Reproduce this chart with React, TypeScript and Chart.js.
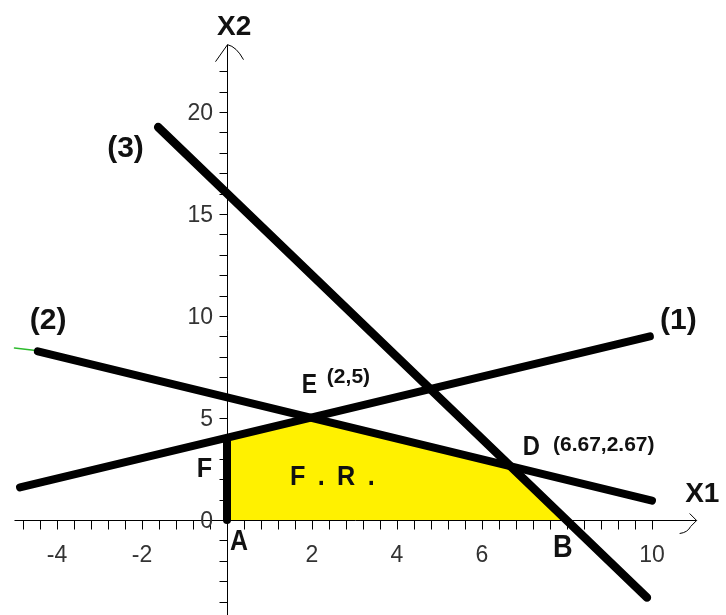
import React, { useEffect, useRef } from 'react';
import { Chart, registerables } from 'chart.js';

Chart.register(...registerables);

// Feasible region upper boundary F-E-D-B (filled down to x2 = 0)
const REGION_X = [0, 2, 6.67, 8];
const REGION_Y = [4, 5, 2.67, 0];
// Constraint (1): -x1 + 2x2 = 8
const LINE1_X = [-4.87, 9.95];
const LINE1_Y = [1.6, 9.0];
// Constraint (2): x1 + 2x2 = 12
const LINE2_X = [-4.45, 10.0];
const LINE2_Y = [8.27, 0.95];
// Constraint (3): 2x1 + x2 = 16
const LINE3_X = [-1.62, 9.88];
const LINE3_Y = [19.26, -3.8];
// Boundary A-F on the x2 axis
const EDGE_X = [0, 0];
const EDGE_Y = [0, 3.95];
// small green tail at the left end of (2)
const TIP_X = [-5.0, -4.45];
const TIP_Y = [8.43, 8.3];

const X_TICK_LABELS = [-4, -2, 2, 4, 6, 10];
const Y_TICK_LABELS = [0, 5, 10, 15, 20];

const X_MIN = -5.341;
const X_MAX = 11.741;
const Y_MIN = -4.657;
const Y_MAX = 25.49;

const X_TICK_STEP = 0.4;
const X_TICK_K0 = -12; // -4.8
const X_TICK_K1 = 25; // 10
const Y_TICK_FIRST = -4;
const Y_TICK_LAST = 22;
const X_AXIS_START = -5.0;
const X_AXIS_END = 11.05;
const Y_AXIS_START = -4.7;
const Y_AXIS_END = 23.3;

const BOLD = '"Liberation Sans", Arial, Helvetica, sans-serif';

const NOTES = [
  { text: 'X2', x: -0.235, y: 23.77, size: 28, sx: 1, sp: 0 },
  { text: 'X1', x: 10.78, y: 0.88, size: 28, sx: 1, sp: 0 },
  { text: '(1)', x: 10.19, y: 9.36, size: 30, sx: 1, sp: 0 },
  { text: '(2)', x: -4.64, y: 9.36, size: 30, sx: 1, sp: 0 },
  { text: '(3)', x: -2.82, y: 17.8, size: 30, sx: 1, sp: 0 },
  { text: 'E', x: 1.76, y: 6.23, size: 28, sx: 0.82, sp: 0 },
  { text: '(2,5)', x: 2.35, y: 6.72, size: 21, sx: 1, sp: 0 },
  { text: 'D', x: 6.96, y: 3.19, size: 28, sx: 0.85, sp: 0 },
  { text: '(6.67,2.67)', x: 7.67, y: 3.38, size: 21, sx: 1, sp: 0 },
  { text: 'F', x: -0.71, y: 2.11, size: 28, sx: 0.9, sp: 0 },
  { text: 'F . R .', x: 1.48, y: 1.72, size: 28, sx: 0.9, sp: 3 },
  { text: 'A', x: 0.07, y: -1.47, size: 30, sx: 0.83, sp: 0 },
  { text: 'B', x: 7.67, y: -1.81, size: 32, sx: 0.85, sp: 0 },
];

const pts = (xs: number[], ys: number[]) => xs.map((v, i) => ({ x: v, y: ys[i] }));

const mapleAxes = {
  id: 'mapleAxes',
  beforeDatasetsDraw(chart: any) {
    const { ctx, scales } = chart;
    const sx = scales.x;
    const sy = scales.y;
    const ax = Math.round(sx.getPixelForValue(0)) + 0.5;
    const ay = Math.round(sy.getPixelForValue(0)) + 0.5;
    ctx.save();
    ctx.strokeStyle = '#000';
    ctx.lineWidth = 1;
    ctx.beginPath();
    const xs = sx.getPixelForValue(X_AXIS_START);
    const xe = sx.getPixelForValue(X_AXIS_END);
    ctx.moveTo(xs, ay);
    ctx.lineTo(xe, ay);
    const ys = sy.getPixelForValue(Y_AXIS_START);
    const ye = sy.getPixelForValue(Y_AXIS_END);
    ctx.moveTo(ax, ys);
    ctx.lineTo(ax, ye);
    for (let k = X_TICK_K0; k <= X_TICK_K1; k++) {
      const p = Math.round(sx.getPixelForValue(k * X_TICK_STEP)) + 0.5;
      ctx.moveTo(p, ay);
      ctx.lineTo(p, ay + 9);
    }
    for (let v = Y_TICK_FIRST; v <= Y_TICK_LAST; v++) {
      const p = Math.round(sy.getPixelForValue(v)) + 0.5;
      ctx.moveTo(ax - 8, p);
      ctx.lineTo(ax, p);
    }
    ctx.stroke();
    ctx.beginPath();
    ctx.moveTo(xe - 7, ay - 7);
    ctx.lineTo(xe, ay);
    ctx.lineTo(xe - 6, ay + 6);
    ctx.quadraticCurveTo(xe - 9, ay + 12, xe - 17, ay + 13);
    ctx.moveTo(ax - 12, ye + 17);
    ctx.lineTo(ax, ye);
    ctx.quadraticCurveTo(ax + 9, ye + 2, ax + 16, ye + 15);
    ctx.stroke();
    ctx.fillStyle = '#333';
    ctx.font = '23px "Liberation Sans", Arial, sans-serif';
    ctx.textAlign = 'center';
    ctx.textBaseline = 'alphabetic';
    X_TICK_LABELS.forEach((v) => {
      ctx.fillText(String(v), sx.getPixelForValue(v), ay + 41.5);
    });
    ctx.textAlign = 'right';
    Y_TICK_LABELS.forEach((v) => {
      ctx.fillText(String(v), ax - 14.5, sy.getPixelForValue(v) + 8);
    });
    ctx.restore();
  },
  afterDatasetsDraw(chart: any) {
    const { ctx, scales } = chart;
    ctx.save();
    ctx.fillStyle = '#111';
    ctx.textAlign = 'left';
    ctx.textBaseline = 'alphabetic';
    NOTES.forEach((n) => {
      ctx.save();
      ctx.translate(scales.x.getPixelForValue(n.x), scales.y.getPixelForValue(n.y));
      ctx.scale(n.sx, 1);
      ctx.font = `bold ${n.size}px ${BOLD}`;
      (ctx as any).letterSpacing = `${n.sp}px`;
      ctx.fillText(n.text, 0, 0);
      ctx.restore();
    });
    ctx.restore();
  },
};

const lineDs = (label: string, xs: number[], ys: number[], width: number, color: string, order: number) => ({
  label,
  data: pts(xs, ys),
  borderColor: color,
  backgroundColor: color,
  borderWidth: width,
  borderCapStyle: 'round',
  borderJoinStyle: 'round',
  pointRadius: 0,
  pointHoverRadius: 0,
  fill: false,
  tension: 0,
  order,
});

export default function App() {
  const ref = useRef<HTMLCanvasElement | null>(null);
  useEffect(() => {
    if (!ref.current) return;
    const chart = new Chart(ref.current, {
      type: 'line',
      data: {
        datasets: [
          {
            label: 'F.R.',
            data: pts(REGION_X, REGION_Y),
            borderWidth: 0,
            borderColor: 'rgba(0,0,0,0)',
            backgroundColor: '#FFF100',
            fill: 'origin',
            pointRadius: 0,
            tension: 0,
            order: 10,
          },
          lineDs('(1)', LINE1_X, LINE1_Y, 8, '#000', 2),
          lineDs('(2)', LINE2_X, LINE2_Y, 8, '#000', 2),
          lineDs('(3)', LINE3_X, LINE3_Y, 8.5, '#000', 2),
          lineDs('AF', EDGE_X, EDGE_Y, 8, '#000', 1),
          lineDs('tip', TIP_X, TIP_Y, 1.5, '#2dbb2d', 3),
        ] as any,
      },
      options: {
        animation: false,
        responsive: false,
        devicePixelRatio: 1,
        events: [],
        layout: { autoPadding: false, padding: 0 },
        plugins: { legend: { display: false }, tooltip: { enabled: false } },
        scales: {
          x: { type: 'linear', display: false, min: X_MIN, max: X_MAX },
          y: { type: 'linear', display: false, min: Y_MIN, max: Y_MAX },
        },
      } as any,
      plugins: [mapleAxes],
    });
    return () => chart.destroy();
  }, []);
  return (
    <div style={{ position: 'fixed', left: 0, top: 0, width: 726, height: 615, background: '#fff' }}>
      <canvas ref={ref} width={726} height={615} style={{ display: 'block' }} />
    </div>
  );
}
